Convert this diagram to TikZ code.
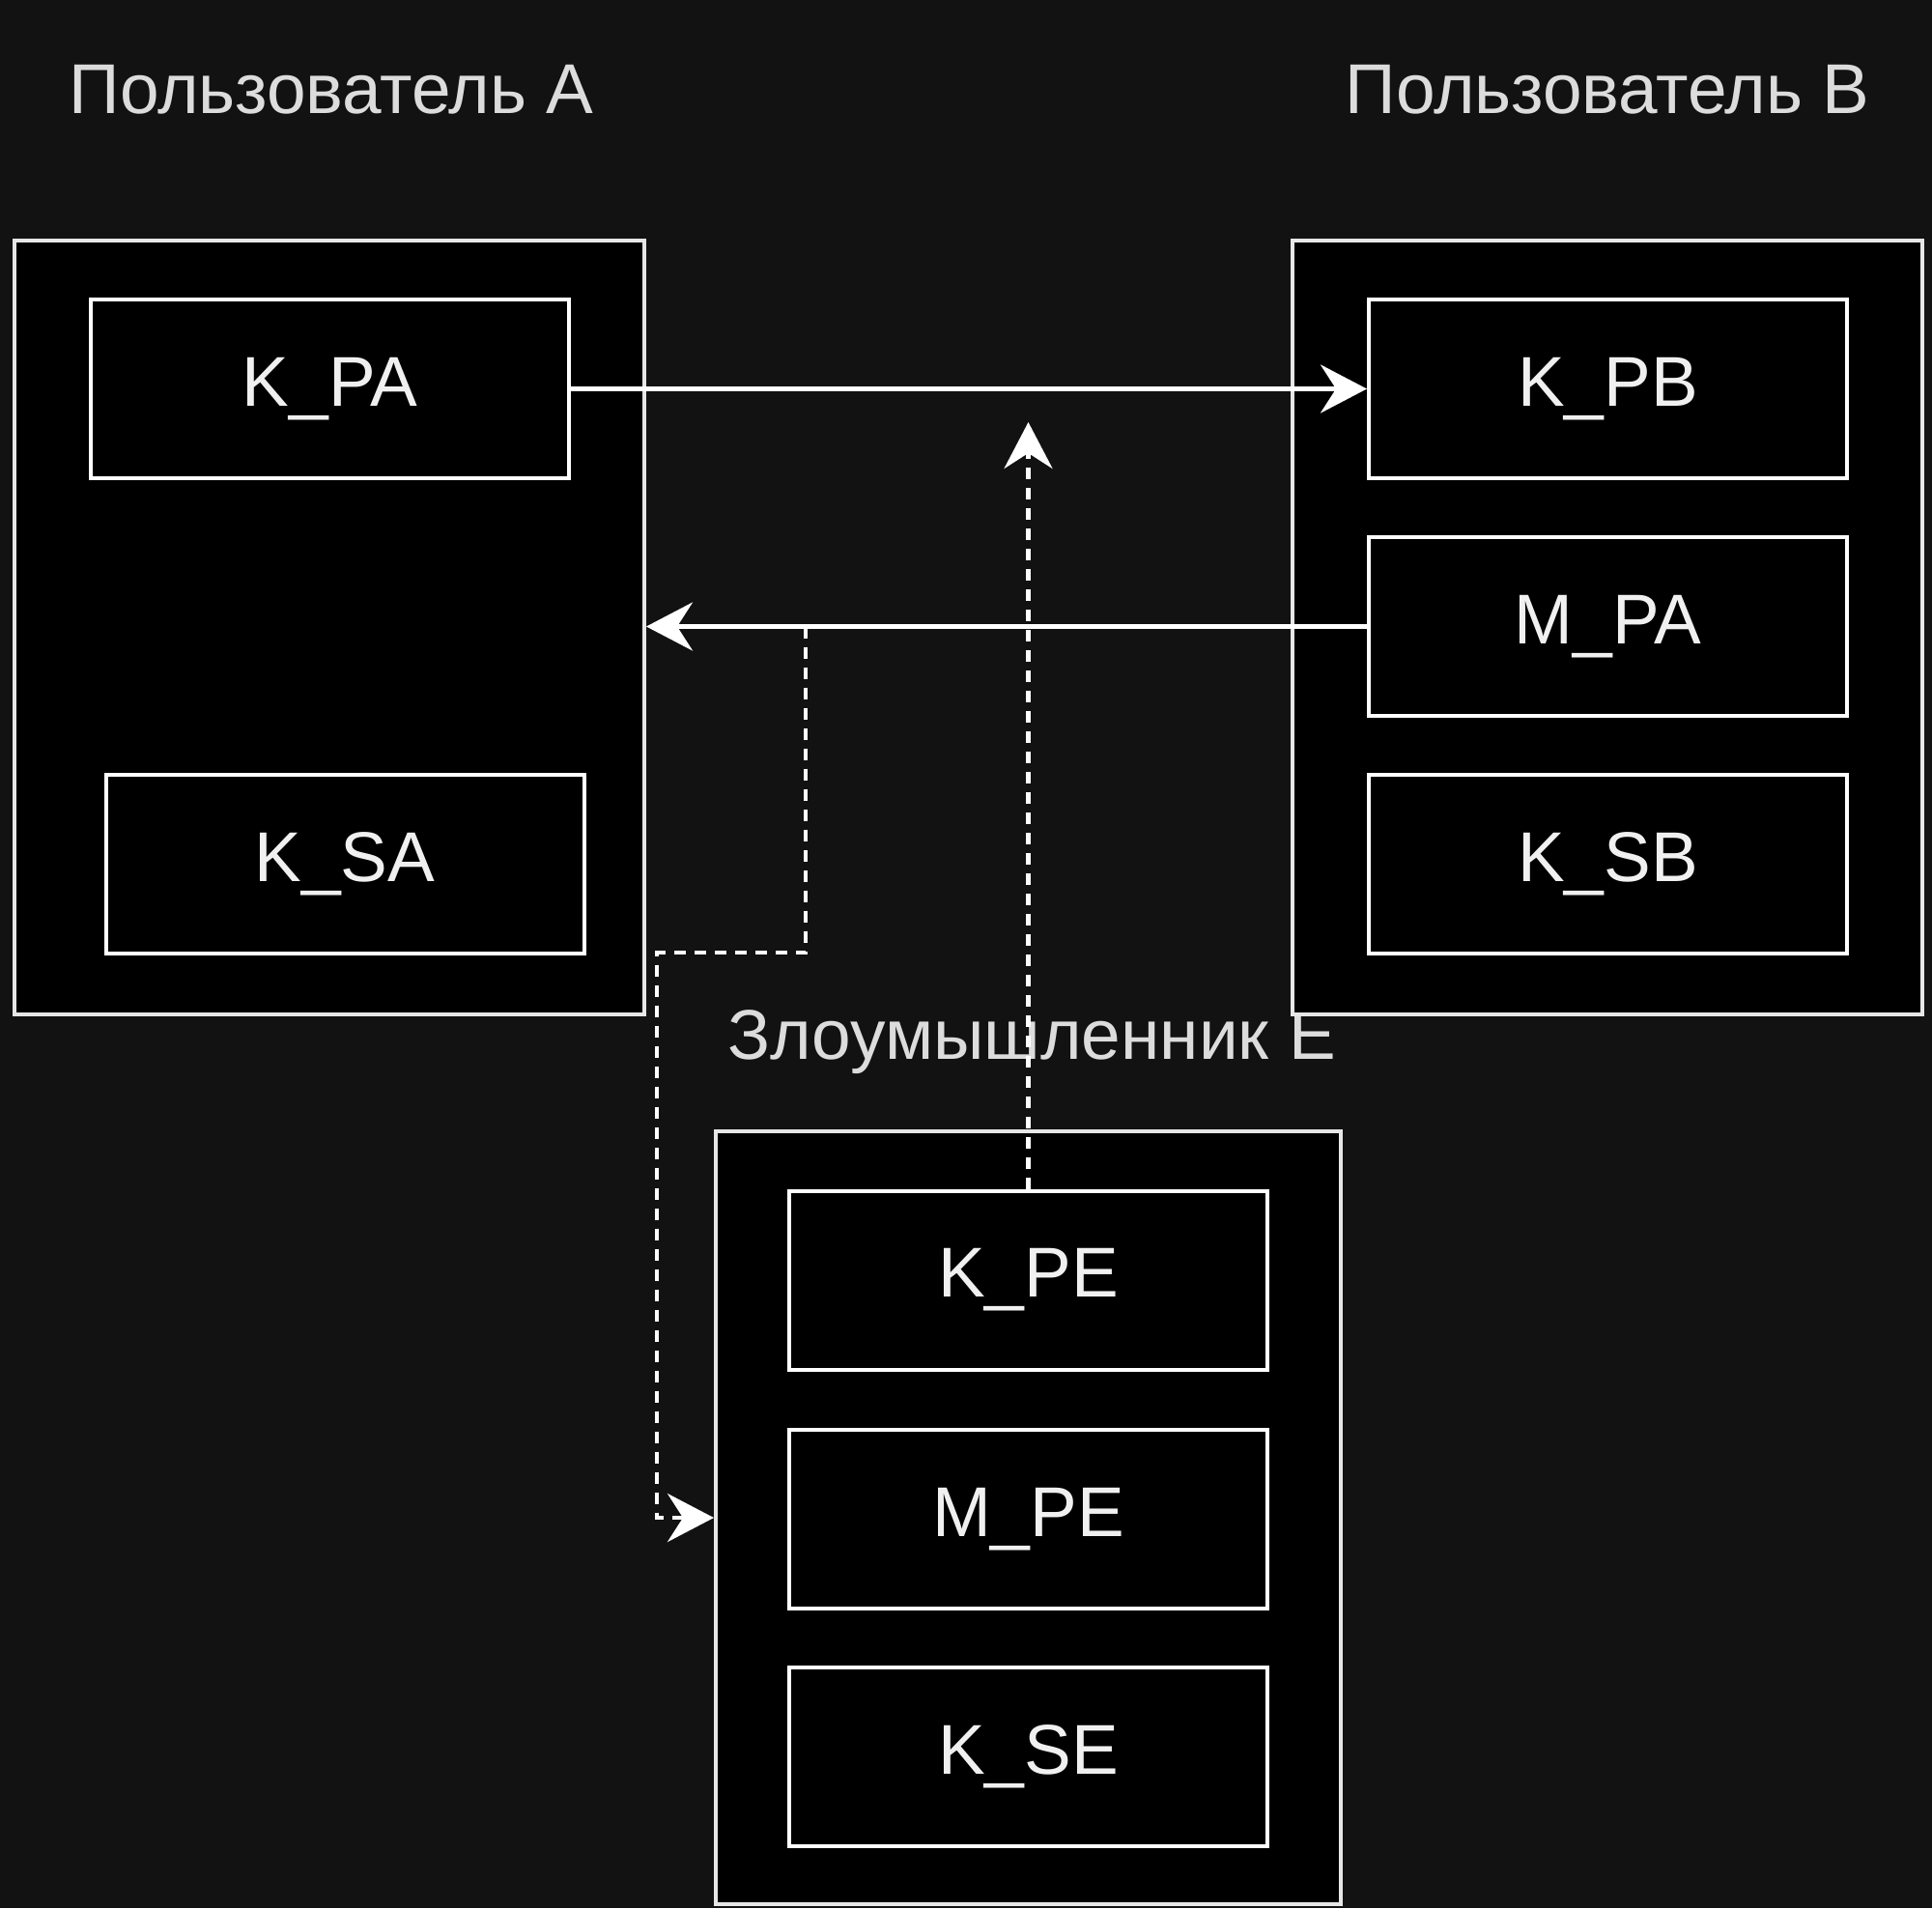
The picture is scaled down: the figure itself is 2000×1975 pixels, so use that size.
\documentclass[tikz,border=0pt]{standalone}
\usepackage{fontspec}
\setmainfont{Liberation Sans}
\usetikzlibrary{arrows.meta}
\definecolor{bg}{HTML}{121212}
\definecolor{boxline}{HTML}{E6E6E6}
\definecolor{txt}{HTML}{F0F0F0}
\definecolor{lbltxt}{HTML}{DCDCDC}
\begin{document}
\begin{tikzpicture}[x=0.5pt,y=-0.5pt,
  container/.style={draw=boxline, fill=black, line width=2pt, minimum width=326pt, minimum height=400.5pt, inner sep=0pt},
  innerbox/.style={draw=white, fill=black, line width=2pt, minimum width=247.5pt, minimum height=92.5pt, inner sep=0pt, font=\fontsize{36.5}{44}\selectfont, text=txt},
  lbl/.style={font=\fontsize{36.5}{44}\selectfont, text=lbltxt, inner sep=0pt},
  conn/.style={draw=white, line width=2.2pt, -{Stealth[length=24pt,width=25pt,inset=8pt]}},
  dashconn/.style={conn, dash pattern=on 6pt off 4.5pt}]
\fill[bg] (0,0) rectangle (2000,1975);
\useasboundingbox (0,0) rectangle (2000,1975);

\node[lbl] (la) at (343,93) {Пользователь A};
\node[lbl] (lb) at (1664,93) {Пользователь B};
\node[lbl] (le) at (1068,1079) {Злоумышленник E};

\node[container] (ua) at (341,649.5) {};
\node[container] (ub) at (1664,649.5) {};
\node[container, minimum width=323.5pt, minimum height=400pt] (ue) at (1064.5,1571) {};

\node[innerbox] (kpa) at (341.5,402.5) {K\_PA};
\node[innerbox] (ksa) at (357,894.5) {K\_SA};
\node[innerbox] (kpb) at (1664.5,402.5) {K\_PB};
\node[innerbox] (mpa) at (1664.5,648.5) {M\_PA};
\node[innerbox] (ksb) at (1664.5,894.5) {K\_SB};
\node[innerbox] (kpe) at (1064.5,1325) {K\_PE};
\node[innerbox] (mpe) at (1064.5,1572.5) {M\_PE};
\node[innerbox] (kse) at (1064.5,1818.5) {K\_SE};

\coordinate (split) at (834,648.5);
\coordinate (bend1) at (834,986);
\coordinate (bend2) at (680,986);
\coordinate (upend) at (1064.5,437);

\draw[conn] (kpa.east) -- (kpb.west);
\draw[conn] (mpa.west) -- (mpa.west -| ua.east);
\draw[dashconn] (split) -- (bend1) -- (bend2) |- (ue.west);
\draw[dashconn] (kpe.north) -- (kpe.north |- upend);
\end{tikzpicture}
\end{document}
